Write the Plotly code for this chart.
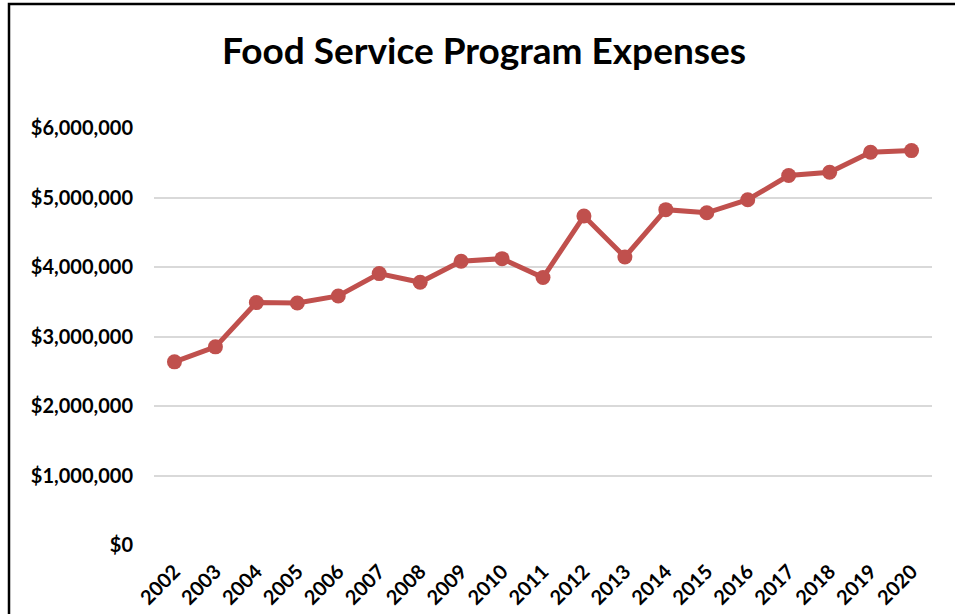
import plotly.graph_objects as go

years = ["2002", "2003", "2004", "2005", "2006", "2007", "2008", "2009", "2010", "2011",
         "2012", "2013", "2014", "2015", "2016", "2017", "2018", "2019", "2020"]
expenses = [2635000, 2851000, 3488000, 3483000, 3583000, 3905000, 3780000, 4082000, 4120000, 3848000,
            4733000, 4144000, 4825000, 4780000, 4968000, 5316000, 5364000, 5652000, 5675000]
y_ticks = [0, 1000000, 2000000, 3000000, 4000000, 5000000, 6000000]
y_tick_labels = ["$0", "$1,000,000", "$2,000,000", "$3,000,000", "$4,000,000", "$5,000,000", "$6,000,000"]

W, H = 955, 614
L, R, T, B = 154, 23, 128, 69
pw, ph = W - L - R, H - T - B

def px_to_paper_x(px):
    return (px - L) / pw

def px_to_paper_y(py):
    return 1 - (py - T) / ph

FONT = "Lato"

fig = go.Figure()
fig.add_trace(go.Scatter(
    x=years, y=expenses, mode="lines+markers",
    line=dict(color="#C0504D", width=5),
    marker=dict(color="#C0504D", size=15),
    showlegend=False, hoverinfo="x+y",
))

fig.update_layout(
    width=W, height=H,
    margin=dict(l=L, r=R, t=T, b=B, autoexpand=False),
    paper_bgcolor="white", plot_bgcolor="white",
    title=dict(text="<b>Food Service Program Expenses</b>", x=484 / W, xanchor="center",
               y=1 - 51 / H, yanchor="middle",
               font=dict(family=FONT, size=37, color="black")),
    xaxis=dict(type="category", showgrid=False, showline=False, zeroline=False, automargin=False,
               tickangle=-45, tickfont=dict(family=FONT, size=20, color="black"),
               ticks="", ticklabelstandoff=10, range=[-0.5, len(years) - 0.5],
               tickvals=years, ticktext=[f"<b>{y}</b>" for y in years]),
    yaxis=dict(range=[0, 6000000], tickvals=y_ticks, ticktext=[f"<b>{t}</b>" for t in y_tick_labels],
               showgrid=True, gridcolor="#D9D9D9", gridwidth=2, zeroline=False, showline=False,
               automargin=False,
               tickfont=dict(family=FONT, size=20, color="black"), ticks="",
               ticklabelstandoff=20),
    shapes=[dict(type="rect", xref="paper", yref="paper",
                 x0=px_to_paper_x(9), x1=px_to_paper_x(990),
                 y0=px_to_paper_y(660), y1=px_to_paper_y(4),
                 line=dict(color="black", width=2.5), fillcolor="rgba(0,0,0,0)", layer="above")],
)

fig.write_html("out.html", config={"displayModeBar": False},
               post_script="document.body.style.margin='0';document.body.style.overflow='hidden';")
